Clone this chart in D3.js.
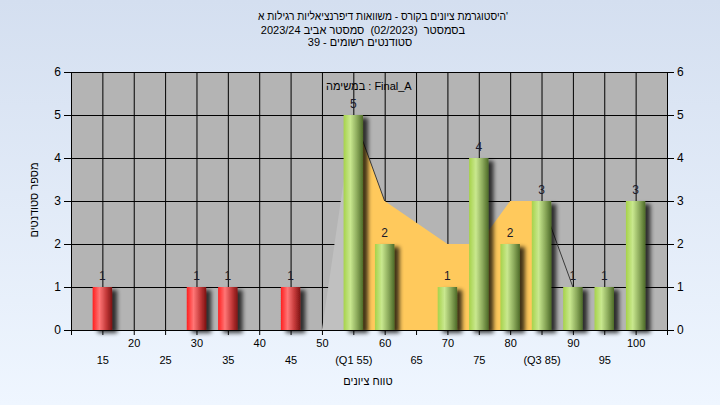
<!DOCTYPE html>
<html><head><meta charset="utf-8">
<script src="https://cdn.jsdelivr.net/npm/d3@7/dist/d3.min.js"></script>
<style>
html,body{margin:0;padding:0;}
body{width:720px;height:405px;overflow:hidden;font-family:"Liberation Sans",Arial,sans-serif;}
text{white-space:pre;}
</style></head>
<body>
<svg id="chart" width="720" height="405"></svg>
<script>
// ---- data ----
const titleLines = [
  "'היסטוגרמת ציונים בקורס - משוואות דיפרנציאליות רגילות א",
  "בסמסטר  (02/2023)  סמסטר אביב 2023/24",
  "סטודנטים רשומים - 39"
];
const legendText = "במשימה : Final_A";
const yTitle = "מספר סטודנטים";
const xTitle = "טווח ציונים";

const gradeBins = [15, 30, 35, 45, 55, 60, 70, 75, 80, 85, 90, 95, 100];
const studentCounts = [1, 1, 1, 1, 5, 2, 1, 4, 2, 3, 1, 1, 3];
const passThreshold = 55;

const curveX = [50, 55, 60, 70, 75, 80, 85, 90];
const curveY = [0, 5, 3, 2, 2, 3, 3, 1];
const q1 = 55, q3 = 85;

const xTicksRow1 = [20, 30, 40, 50, 60, 70, 80, 90, 100];
const xTicksRow2 = [15, 25, 35, 45, 55, 65, 75, 85, 95];
const xTickLabels = {55: "(Q1 55)", 85: "(Q3 85)"};
const yTicks = [0, 1, 2, 3, 4, 5, 6];

// ---- layout ----
const svg = d3.select("#chart");
const L = 71, R = 667, T = 72, B = 330;
const x = d3.scaleLinear().domain([10, 105]).range([L, R]);
const y = d3.scaleLinear().domain([0, 6]).range([B, T]);
const allTicks = d3.range(10, 106, 5);

const defs = svg.append("defs");
const bg = defs.append("linearGradient").attr("id", "bg").attr("x1", 0).attr("y1", 0).attr("x2", 0).attr("y2", 1);
bg.append("stop").attr("offset", 0).attr("stop-color", "#d4dff0");
bg.append("stop").attr("offset", 1).attr("stop-color", "#eff6ff");

function barGrad(id, c0, c1, c2, c3) {
  const g = defs.append("linearGradient").attr("id", id).attr("x1", 0).attr("y1", 0).attr("x2", 1).attr("y2", 0);
  g.append("stop").attr("offset", 0).attr("stop-color", c0);
  g.append("stop").attr("offset", 0.35).attr("stop-color", c1);
  g.append("stop").attr("offset", 0.7).attr("stop-color", c2);
  g.append("stop").attr("offset", 1).attr("stop-color", c3);
}
barGrad("gRed", "#ff1f1f", "#ff7676", "#c43a3a", "#7e1414");
barGrad("gGreen", "#a6d24a", "#c9e88f", "#8aa85a", "#4e6b28");

const sh = defs.append("filter").attr("id", "shadow").attr("x", "-50%").attr("y", "-20%").attr("width", "200%").attr("height", "140%");
sh.append("feGaussianBlur").attr("in", "SourceAlpha").attr("stdDeviation", 2).attr("result", "b");
sh.append("feOffset").attr("in", "b").attr("dx", 5).attr("dy", 3).attr("result", "o");
sh.append("feComponentTransfer").attr("in", "o").attr("result", "o2")
  .append("feFuncA").attr("type", "linear").attr("slope", 0.75);
const m = sh.append("feMerge");
m.append("feMergeNode").attr("in", "o2");
m.append("feMergeNode").attr("in", "SourceGraphic");

svg.append("rect").attr("width", 720).attr("height", 405).attr("fill", "url(#bg)");
svg.append("rect").attr("x", L).attr("y", T).attr("width", R - L).attr("height", B - T).attr("fill", "#b4b4b4");

// grid
svg.append("g").attr("transform", `translate(0,${B})`)
  .call(d3.axisBottom(x).tickValues(allTicks).tickSize(-(B - T)).tickFormat(""))
  .call(g => g.select(".domain").remove())
  .call(g => g.selectAll("line").attr("stroke", "#000"));
svg.append("g").attr("transform", `translate(${L},0)`)
  .call(d3.axisLeft(y).tickValues(yTicks).tickSize(-(R - L)).tickFormat(""))
  .call(g => g.select(".domain").remove())
  .call(g => g.selectAll("line").attr("stroke", "#000"));

// curve areas
const pts = curveX.map((v, i) => [v, curveY[i]]);
const area = d3.area().x(d => x(d[0])).y0(y(0)).y1(d => y(d[1]));
svg.append("path").datum(pts.filter(p => p[0] <= q1)).attr("d", area).attr("fill", "#c0c0c0");
svg.append("path").datum(pts.filter(p => p[0] >= q1 && p[0] <= q3)).attr("d", area).attr("fill", "#ffc95c");
const line = d3.line().x(d => x(d[0])).y(d => y(d[1]));
svg.append("path").datum(pts.filter(p => p[0] >= q1 && p[0] <= 60)).attr("d", line)
  .attr("fill", "none").attr("stroke", "#3a3a3a").attr("stroke-width", 1);
svg.append("path").datum(pts.filter(p => p[0] >= q3)).attr("d", line)
  .attr("fill", "none").attr("stroke", "#3a3a3a").attr("stroke-width", 1);

// bars
const bw = x(13.1) - x(10);
const bars = svg.append("g");
gradeBins.forEach((g, i) => {
  const v = studentCounts[i];
  bars.append("rect")
    .attr("x", x(g) - bw / 2).attr("y", y(v))
    .attr("width", bw).attr("height", y(0) - y(v))
    .attr("fill", g < passThreshold ? "url(#gRed)" : "url(#gGreen)")
    .attr("filter", "url(#shadow)");
  svg.append("text").attr("x", x(g)).attr("y", y(v) - 7)
    .attr("text-anchor", "middle").attr("font-size", 12).attr("fill", "#1a1a2a").text(v);
});

// axes
const axFont = g => g.selectAll("text").attr("font-family", "Liberation Sans, Arial, sans-serif").attr("fill", "#000");
svg.append("g").attr("transform", `translate(${L},0)`)
  .call(d3.axisLeft(y).tickValues(yTicks).tickSize(7).tickPadding(3).tickFormat(d3.format("d")))
  .call(g => g.selectAll("line,path").attr("stroke", "#000"))
  .call(g => g.selectAll("text").attr("font-size", 12)).call(axFont);
svg.append("g").attr("transform", `translate(${R},0)`)
  .call(d3.axisRight(y).tickValues(yTicks).tickSize(7).tickPadding(3).tickFormat(d3.format("d")))
  .call(g => g.selectAll("line,path").attr("stroke", "#000"))
  .call(g => g.selectAll("text").attr("font-size", 12)).call(axFont);
svg.append("g").attr("transform", `translate(0,${B})`)
  .call(d3.axisBottom(x).tickValues(allTicks).tickSize(5).tickSizeOuter(0).tickFormat(""))
  .call(g => g.selectAll("line,path").attr("stroke", "#000"));
const fmt = d => xTickLabels[d] || String(d);
svg.append("g").attr("transform", `translate(0,${B + 6})`)
  .call(d3.axisBottom(x).tickValues(xTicksRow1).tickSize(0).tickPadding(3).tickFormat(fmt))
  .call(g => g.select(".domain").remove())
  .call(g => g.selectAll("text").attr("font-size", 11)).call(axFont);
svg.append("g").attr("transform", `translate(0,${B + 23})`)
  .call(d3.axisBottom(x).tickValues(xTicksRow2).tickSize(0).tickPadding(3).tickFormat(fmt))
  .call(g => g.select(".domain").remove())
  .call(g => g.selectAll("text").attr("font-size", 11)).call(axFont);

// titles
const tx = [383, 363, 360], ty = [20, 34, 46];
titleLines.forEach((t, i) => {
  const el = svg.append("text").attr("x", tx[i]).attr("y", ty[i]).attr("text-anchor", "middle")
    .attr("direction", "rtl").attr("font-size", 11).attr("fill", "#000").text(t);
  if (i === 0) el.attr("textLength", 250).attr("lengthAdjust", "spacingAndGlyphs");
});
svg.append("text").attr("x", 326).attr("y", 90).attr("font-size", 11).attr("fill", "#000").text(legendText);
svg.append("text").attr("x", 368).attr("y", 385).attr("text-anchor", "middle").attr("direction", "rtl")
  .attr("font-size", 11).attr("fill", "#000").text(xTitle);
svg.append("text").attr("transform", "translate(38,200) rotate(-90)").attr("text-anchor", "middle")
  .attr("direction", "rtl").attr("font-size", 11).attr("fill", "#000").text(yTitle);
</script>
</body></html>
